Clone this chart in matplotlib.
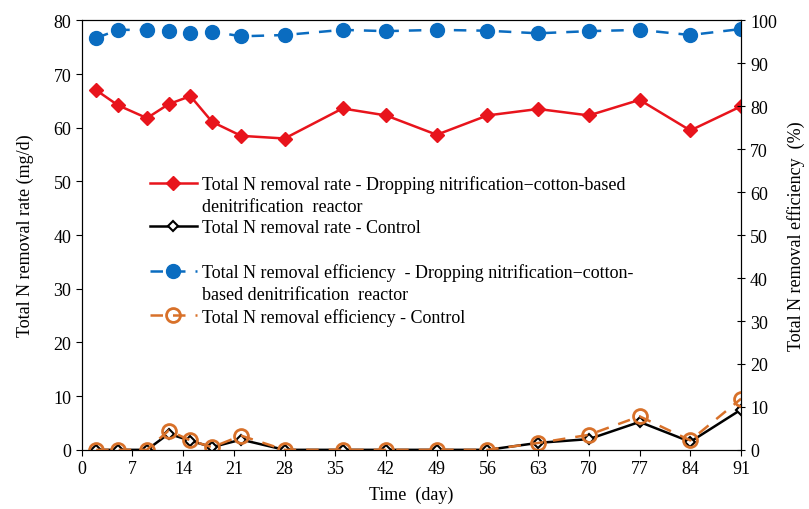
import matplotlib
matplotlib.use("Agg")
import matplotlib.pyplot as plt
from matplotlib.lines import Line2D

plt.rcParams['font.family'] = ['Liberation Serif', 'DejaVu Serif']

days = [2, 5, 9, 12, 15, 18, 22, 28, 36, 42, 49, 56, 63, 70, 77, 84, 91]
rate_reactor = [67.0, 64.2, 61.8, 64.4, 65.9, 61.1, 58.5, 58.0, 63.6, 62.3, 58.7,
                62.3, 63.5, 62.3, 65.2, 59.5, 64.0]
rate_control = [0, 0, 0, 3.0, 1.7, 0.5, 1.9, 0, 0, 0, 0,
                0, 1.3, 2.0, 5.2, 1.5, 7.5]
eff_reactor = [95.9, 97.8, 97.8, 97.5, 97.0, 97.4, 96.3, 96.6, 97.8, 97.5, 97.8,
               97.6, 97.0, 97.5, 97.8, 96.6, 98.0]
eff_control = [0, 0, 0, 4.5, 2.2, 0.6, 3.3, 0, 0, 0, 0,
               0, 1.6, 3.5, 7.8, 2.2, 11.9]
xticks = [0, 7, 14, 21, 28, 35, 42, 49, 56, 63, 70, 77, 84, 91]

fig = plt.figure(figsize=(8.09, 5.10), dpi=100)
ax = fig.add_axes([0.101, 0.116, 0.815, 0.842])
ax2 = ax.twinx()

red = '#e8141c'
blue = '#0a6cc0'
orange = '#d8712a'

l1, = ax.plot(days, rate_reactor, color=red, marker='D', markersize=7.5, lw=1.8)
l2, = ax.plot(days, rate_control, color='black', marker='D', markersize=5, lw=1.8,
              markerfacecolor='white', markeredgewidth=1.5)
l3, = ax2.plot(days, eff_reactor, color=blue, marker='o', markersize=10, lw=1.8,
               dashes=(5, 4))
l4, = ax2.plot(days, eff_control, color=orange, marker='o', markersize=10, lw=1.8,
               markerfacecolor='none', markeredgewidth=2, dashes=(5, 4))
blank = Line2D([], [], linestyle='none')

ax.set_xlim(0, 91)
ax.set_ylim(0, 80)
ax2.set_ylim(0, 100)
ax.set_xticks(xticks)
ax.set_yticks(range(0, 81, 10))
ax2.set_yticks(range(0, 101, 10))

fs = 13
ax.tick_params(axis='both', direction='out', labelsize=fs, length=4)
ax2.tick_params(axis='y', direction='inout', labelsize=fs, length=6)
ax.set_xlabel('Time  (day)', fontsize=fs, labelpad=6)
ax.set_ylabel('Total N removal rate (mg/d)', fontsize=fs, labelpad=14)
ax2.set_ylabel('Total N removal efficiency  (%)', fontsize=fs, labelpad=7)

leg_kw = dict(loc='upper left', frameon=False, fontsize=fs, handlelength=2.6,
              handletextpad=0.3, borderaxespad=0, borderpad=0, labelspacing=0.26)
leg1 = ax2.legend([l1, blank, l2],
                  ['Total N removal rate - Dropping nitrification\u2212cotton-based',
                   'denitrification  reactor',
                   'Total N removal rate - Control'],
                  bbox_to_anchor=(0.103, 0.64), **leg_kw)
ax2.add_artist(leg1)
ax2.legend([l3, blank, l4],
           ['Total N removal efficiency  - Dropping nitrification\u2212cotton-',
            'based denitrification  reactor',
            'Total N removal efficiency - Control'],
           bbox_to_anchor=(0.103, 0.434), **leg_kw)

fig.savefig('out.png', dpi=100)
